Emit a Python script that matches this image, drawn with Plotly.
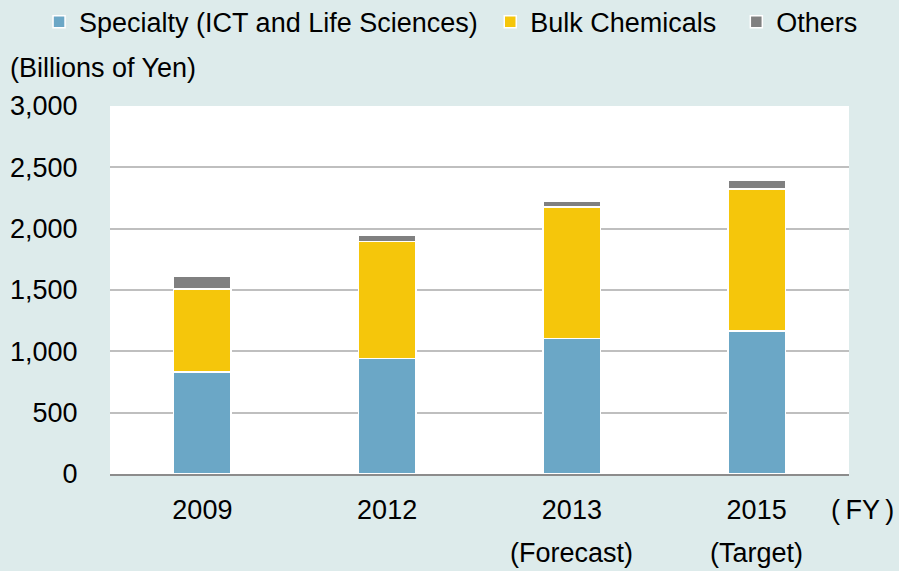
import plotly.graph_objects as go

categories = ["2009", "2012", "2013", "2015"]
sub_labels = ["", "", "(Forecast)", "(Target)"]
specialty = [830, 940, 1105, 1165]
bulk = [680, 955, 1070, 1160]
others = [100, 50, 45, 70]

NB = "\u00a0"
series = [
    ("Specialty (ICT and Life Sciences)" + NB, specialty, "#6BA7C6"),
    ("Bulk Chemicals" + NB * 2, bulk, "#F5C60B"),
    ("Others", others, "#808080"),
]

xpos = list(range(len(categories)))

fig = go.Figure()
for name, vals, col in series:
    fig.add_trace(go.Bar(x=xpos, y=vals, name=name, width=0.31,
                         marker=dict(color=col, line=dict(color="#FFFFFF", width=1.5))))

font = dict(family="Arial", size=27, color="#000000")

fig.update_layout(
    template="none",
    barmode="stack",
    width=899, height=571,
    margin=dict(l=110, r=50, t=106, b=97, autoexpand=False),
    paper_bgcolor="#DDEBEB",
    plot_bgcolor="#FFFFFF",
    font=font,
    legend=dict(orientation="h", x=-0.096, xanchor="left", y=1.228, yanchor="middle",
                traceorder="normal", bgcolor="rgba(0,0,0,0)"),
    xaxis=dict(range=[-0.5, 3.5], tickvals=xpos, ticktext=categories,
               showgrid=False, showline=True, linecolor="#8C8C8C", linewidth=2,
               ticks="outside", ticklen=11, tickcolor="rgba(0,0,0,0)", zeroline=False),
    yaxis=dict(range=[0, 3000], dtick=500, tickformat=",", showgrid=True,
               gridcolor="#BFBFBF", gridwidth=1.5, zeroline=False, showline=False,
               ticks="outside", ticklen=26, tickcolor="rgba(0,0,0,0)"),
)

fig.add_annotation(text="(\u2009FY\u2009)", x=1.063, xref="paper", xanchor="right",
                   y=-0.098, yref="paper", yanchor="middle", showarrow=False)
fig.add_annotation(text="(Billions of Yen)", x=-0.138, xref="paper", xanchor="left",
                   y=1.103, yref="paper", yanchor="middle", showarrow=False)
for xp, lab in zip(xpos, sub_labels):
    if lab:
        fig.add_annotation(text=lab, x=xp, xref="x", xanchor="center",
                           y=-0.215, yref="paper", yanchor="middle", showarrow=False)

fig.write_html("out.html", config={"displayModeBar": False},
               post_script="document.body.style.margin='0';document.body.style.padding='0';")
